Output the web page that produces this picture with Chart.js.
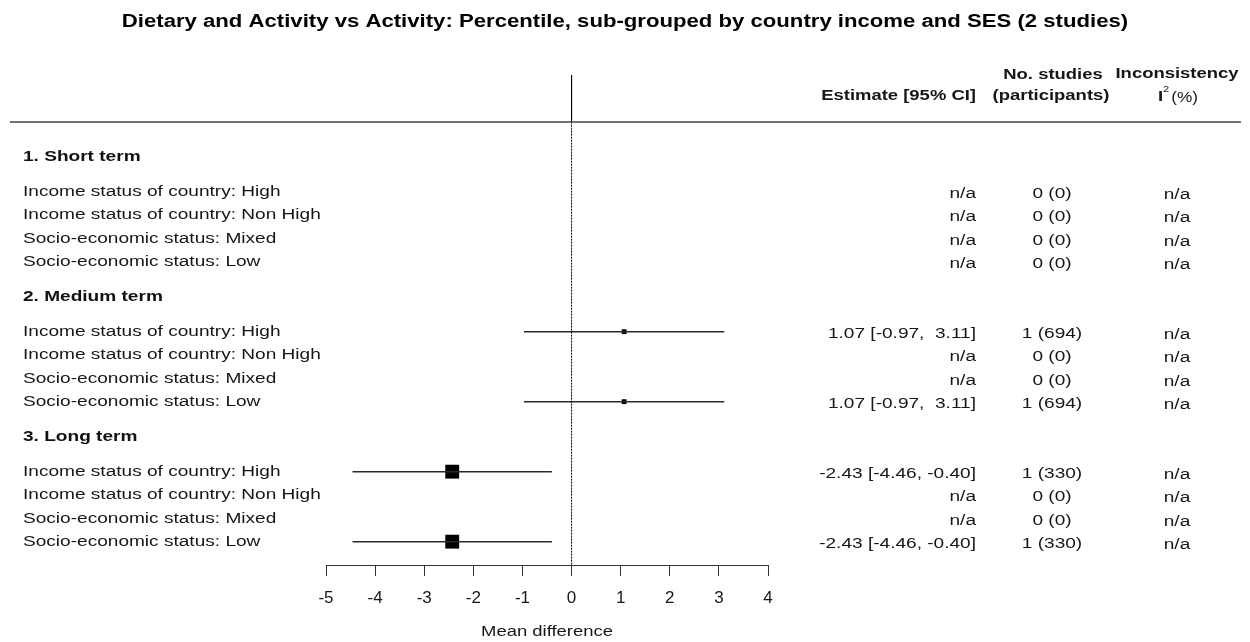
<!DOCTYPE html>
<html>
<head>
<meta charset="utf-8">
<script src="https://cdn.jsdelivr.net/npm/chart.js@4.4.1/dist/chart.umd.min.js"></script>
<style>
  html, body { margin: 0; padding: 0; background: #fff; }
  #forest { display: block; }
</style>
</head>
<body>
<canvas id="forest" width="1250" height="642"></canvas>
<script>
const chartTitle = 'Dietary and Activity vs Activity: Percentile, sub-grouped by country income and SES (2 studies)';
const sectionTitles = ['1. Short term', '2. Medium term', '3. Long term'];
const subgroupLabels = [
  'Income status of country: High',
  'Income status of country: Non High',
  'Socio-economic status: Mixed',
  'Socio-economic status: Low'
];
// 12 rows: 3 sections x 4 subgroups, null = no data (n/a)
const meanDiff = [null, null, null, null, 1.07, null, null, 1.07, -2.43, null, null, -2.43];
const ciLower = [null, null, null, null, -0.97, null, null, -0.97, -4.46, null, null, -4.46];
const ciUpper = [null, null, null, null, 3.11, null, null, 3.11, -0.40, null, null, -0.40];
const nStudies = [0, 0, 0, 0, 1, 0, 0, 1, 1, 0, 0, 1];
const nParticipants = [0, 0, 0, 0, 694, 0, 0, 694, 330, 0, 0, 330];
const inconsistencyI2 = [null, null, null, null, null, null, null, null, null, null, null, null];
const studyWeight = [0, 0, 0, 0, 0.12, 0, 0, 0.12, 1, 0, 0, 1];
const xTickValues = [-5, -4, -3, -2, -1, 0, 1, 2, 3, 4];
const xAxisTitle = 'Mean difference';

// the original was rendered wider than tall, so text is stretched sideways
const SX = 1.23;
const FONT = '"Liberation Sans", Arial, sans-serif';
const textColor = '#161616';

const rowPos = i => 5 + Math.floor(i / 4) * 6 + (i % 4);
const headerPos = s => 3.5 + s * 6;

function fmtNum(v) {
  const s = v.toFixed(2);
  return v >= 0 ? ' ' + s : s;
}
function estimateText(i) {
  if (meanDiff[i] === null) return 'n/a';
  return `${meanDiff[i].toFixed(2)} [${fmtNum(ciLower[i])}, ${fmtNum(ciUpper[i])}]`;
}

function drawText(ctx, text, x, y, align, font, color) {
  ctx.save();
  ctx.font = font;
  ctx.fillStyle = color || textColor;
  ctx.textAlign = align;
  ctx.textBaseline = 'middle';
  ctx.translate(x, y);
  ctx.scale(SX, 1);
  ctx.fillText(text, 0, 0);
  ctx.restore();
}

const forestText = {
  id: 'forestText',
  afterDraw(chart) {
    const ctx = chart.ctx;
    const yScale = chart.scales.y;
    const xScale = chart.scales.x;

    drawText(ctx, chartTitle, 625, 22, 'center', `bold 18px ${FONT}`, '#000');

    // column headers
    drawText(ctx, 'Estimate [95% CI]', 976, 96, 'right', `bold 15px ${FONT}`);
    drawText(ctx, 'No. studies', 1053, 75, 'center', `bold 15px ${FONT}`);
    drawText(ctx, '(participants)', 1051, 96, 'center', `bold 15px ${FONT}`);
    drawText(ctx, 'Inconsistency', 1177, 74, 'center', `bold 15px ${FONT}`);

    // I² (%) header
    ctx.save();
    ctx.font = `bold 15px ${FONT}`;
    const wI = ctx.measureText('I').width * SX;
    ctx.font = `9px ${FONT}`;
    const w2 = ctx.measureText('2').width * SX;
    ctx.font = `14px ${FONT}`;
    const wP = ctx.measureText('(%)').width * SX;
    ctx.restore();
    const hx = 1178 - (wI + w2 + 2 + wP) / 2;
    drawText(ctx, 'I', hx, 97, 'left', `bold 15px ${FONT}`);
    drawText(ctx, '2', hx + wI, 90, 'left', `9px ${FONT}`);
    drawText(ctx, '(%)', hx + wI + w2 + 2, 98, 'left', `14px ${FONT}`);

    // rule under headers
    ctx.save();
    ctx.strokeStyle = '#444';
    ctx.lineWidth = 1.5;
    ctx.beginPath();
    ctx.moveTo(10, 122);
    ctx.lineTo(1241, 122);
    ctx.stroke();
    ctx.restore();

    sectionTitles.forEach((t, s) => {
      drawText(ctx, t, 23, yScale.getPixelForValue(headerPos(s)), 'left', `bold 15.5px ${FONT}`, '#111');
    });

    meanDiff.forEach((m, i) => {
      const y = yScale.getPixelForValue(rowPos(i));
      drawText(ctx, subgroupLabels[i % 4], 23, y, 'left', `15.5px ${FONT}`);
      drawText(ctx, estimateText(i), 976, y + 2, 'right', `15.5px ${FONT}`);
      drawText(ctx, `${nStudies[i]} (${nParticipants[i]})`, 1052, y + 2, 'center', `15.5px ${FONT}`);
      const i2 = inconsistencyI2[i] === null ? 'n/a' : String(inconsistencyI2[i]);
      drawText(ctx, i2, 1177, y + 3, 'center', `15.5px ${FONT}`);
    });

    drawText(ctx, xAxisTitle, (xScale.left + xScale.right) / 2, 632, 'center', `15px ${FONT}`);
  }
};

const datasets = [];
// reference line at zero: solid through the header band, dotted below
datasets.push({
  type: 'line', data: [{ x: 0, y: 0 }, { x: 0, y: 2 }],
  borderColor: '#000', borderWidth: 1, pointRadius: 0, clip: false
});
datasets.push({
  type: 'line', data: [{ x: 0, y: 2 }, { x: 0, y: 21 }],
  borderColor: '#000', borderWidth: 1, borderDash: [2, 1], pointRadius: 0, clip: false
});
meanDiff.forEach((m, i) => {
  if (m === null) return;
  datasets.push({
    type: 'line',
    data: [{ x: ciLower[i], y: rowPos(i) }, { x: ciUpper[i], y: rowPos(i) }],
    borderColor: '#2a2a2a', borderWidth: 1.5, pointRadius: 0, clip: false
  });
});
const pointRows = meanDiff.map((m, i) => i).filter(i => meanDiff[i] !== null);
datasets.push({
  type: 'scatter',
  data: pointRows.map(i => ({ x: meanDiff[i], y: rowPos(i) })),
  pointStyle: 'rect',
  pointRadius: pointRows.map(i => 9.8 * Math.sqrt(studyWeight[i])),
  backgroundColor: '#000',
  borderColor: '#000',
  borderWidth: 0
});

new Chart(document.getElementById('forest').getContext('2d'), {
  type: 'scatter',
  data: { datasets },
  options: {
    responsive: false,
    animation: false,
    events: [],
    layout: { padding: { left: 326, right: 482, top: 75, bottom: 0 } },
    plugins: { legend: { display: false }, tooltip: { enabled: false }, title: { display: false } },
    scales: {
      x: {
        type: 'linear',
        min: -5,
        max: 4,
        afterBuildTicks: scale => { scale.ticks = xTickValues.map(v => ({ value: v })); },
        afterFit: scale => { scale.height = 77; },
        grid: { drawOnChartArea: false, drawTicks: true, tickLength: 11, color: '#333', lineWidth: 1 },
        border: { display: true, color: '#333', width: 1 },
        ticks: {
          color: textColor,
          font: { family: FONT, size: 17 },
          padding: 12,
          maxRotation: 0,
          autoSkip: false
        }
      },
      y: { type: 'linear', display: false, reverse: true, min: 0, max: 21 }
    }
  },
  plugins: [forestText]
});
</script>
</body>
</html>
